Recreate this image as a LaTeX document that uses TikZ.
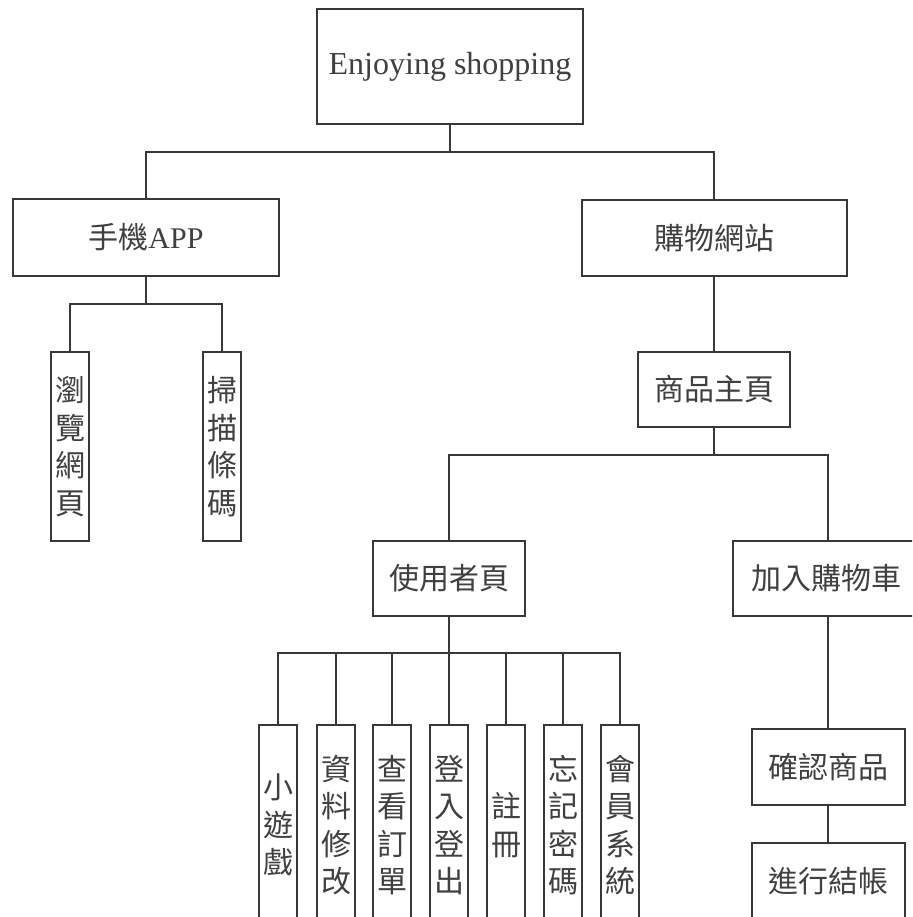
\documentclass[tikz,border=0pt]{standalone}
\usepackage{fontspec}
\setmainfont{Liberation Serif}
\newfontfamily\cjk{Noto Sans CJK TC}
\begin{document}
\begin{tikzpicture}[x=1pt,y=-1pt,
  box/.style={draw=black!78, line width=2pt, rectangle, inner sep=0pt, text=black!75, align=center},
  hbox/.style={box, font=\cjk\fontsize{30}{36}\selectfont},
  vbox/.style={box, minimum width=38pt, font=\cjk\fontsize{30}{37.5}\selectfont},
  link/.style={draw=black!78, line width=2pt}]
\useasboundingbox (0,0) rectangle (912,917);
\clip (0,0) rectangle (912,917);
\fill[white] (0,0) rectangle (912,917);
% level 0
\node[box, minimum width=266pt, minimum height=115pt, font=\fontsize{32}{38}\selectfont] (root) at (450,66.5) {Enjoying shopping};
% level 1
\node[hbox, minimum width=266pt, minimum height=77pt] (app) at (146,237.5) {手機\fontspec{Liberation Serif}APP};
\node[hbox, minimum width=265pt, minimum height=76pt] (site) at (714,238) {購物網站};
% app children
\node[vbox, minimum height=189pt] (browse) at (70,446.5) {瀏\\覽\\網\\頁};
\node[vbox, minimum height=189pt] (scan) at (222,446.5) {掃\\描\\條\\碼};
% site children
\node[hbox, minimum width=152pt, minimum height=75pt] (home) at (714,389.5) {商品主頁};
\node[hbox, minimum width=152pt, minimum height=75pt] (user) at (449,578.5) {使用者頁};
\node[hbox, minimum width=186pt, minimum height=75pt] (cart) at (826,578.5) {加入購物車};
\node[hbox, minimum width=153pt, minimum height=76pt] (confirm) at (828,767) {確認商品};
\node[hbox, minimum width=153pt, minimum height=76pt] (checkout) at (828,881) {進行結帳};
% user children
\node[vbox, minimum height=200pt] (game) at (278,825) {小\\遊\\戲};
\node[vbox, minimum height=200pt] (edit) at (336,825) {資\\料\\修\\改};
\node[vbox, minimum height=200pt] (order) at (392,825) {查\\看\\訂\\單};
\node[vbox, minimum height=200pt] (login) at (449,825) {登\\入\\登\\出};
\node[vbox, minimum height=200pt] (reg) at (506,825) {註\\冊};
\node[vbox, minimum height=200pt] (forget) at (563,825) {忘\\記\\密\\碼};
\node[vbox, minimum height=200pt] (member) at (620,825) {會\\員\\系\\統};
% connectors
\coordinate (b1) at (450,152);
\draw[link] (root.south) -- (b1);
\draw[link] (app.north) |- (b1) -| (site.north);
\coordinate (b2) at (146,304);
\draw[link] (app.south) -- (b2);
\draw[link] (browse.north) |- (b2) -| (scan.north);
\draw[link] (site.south) -- (home.north);
\coordinate (b3) at (714,455);
\draw[link] (home.south) -- (b3);
\coordinate (c3) at (828,455);
\draw[link] (user.north) |- (b3) -- (c3) -- (c3 |- cart.north);
\coordinate (b4) at (449,653);
\draw[link] (user.south) -- (b4);
\draw[link] (game.north) |- (b4) -| (member.north);
\foreach \n in {edit,order,login,reg,forget}{
  \draw[link] (\n.north) -- (\n.north |- b4);
}
\draw[link] (cart.south -| confirm.north) -- (confirm.north);
\draw[link] (confirm.south) -- (checkout.north);
\end{tikzpicture}
\end{document}
